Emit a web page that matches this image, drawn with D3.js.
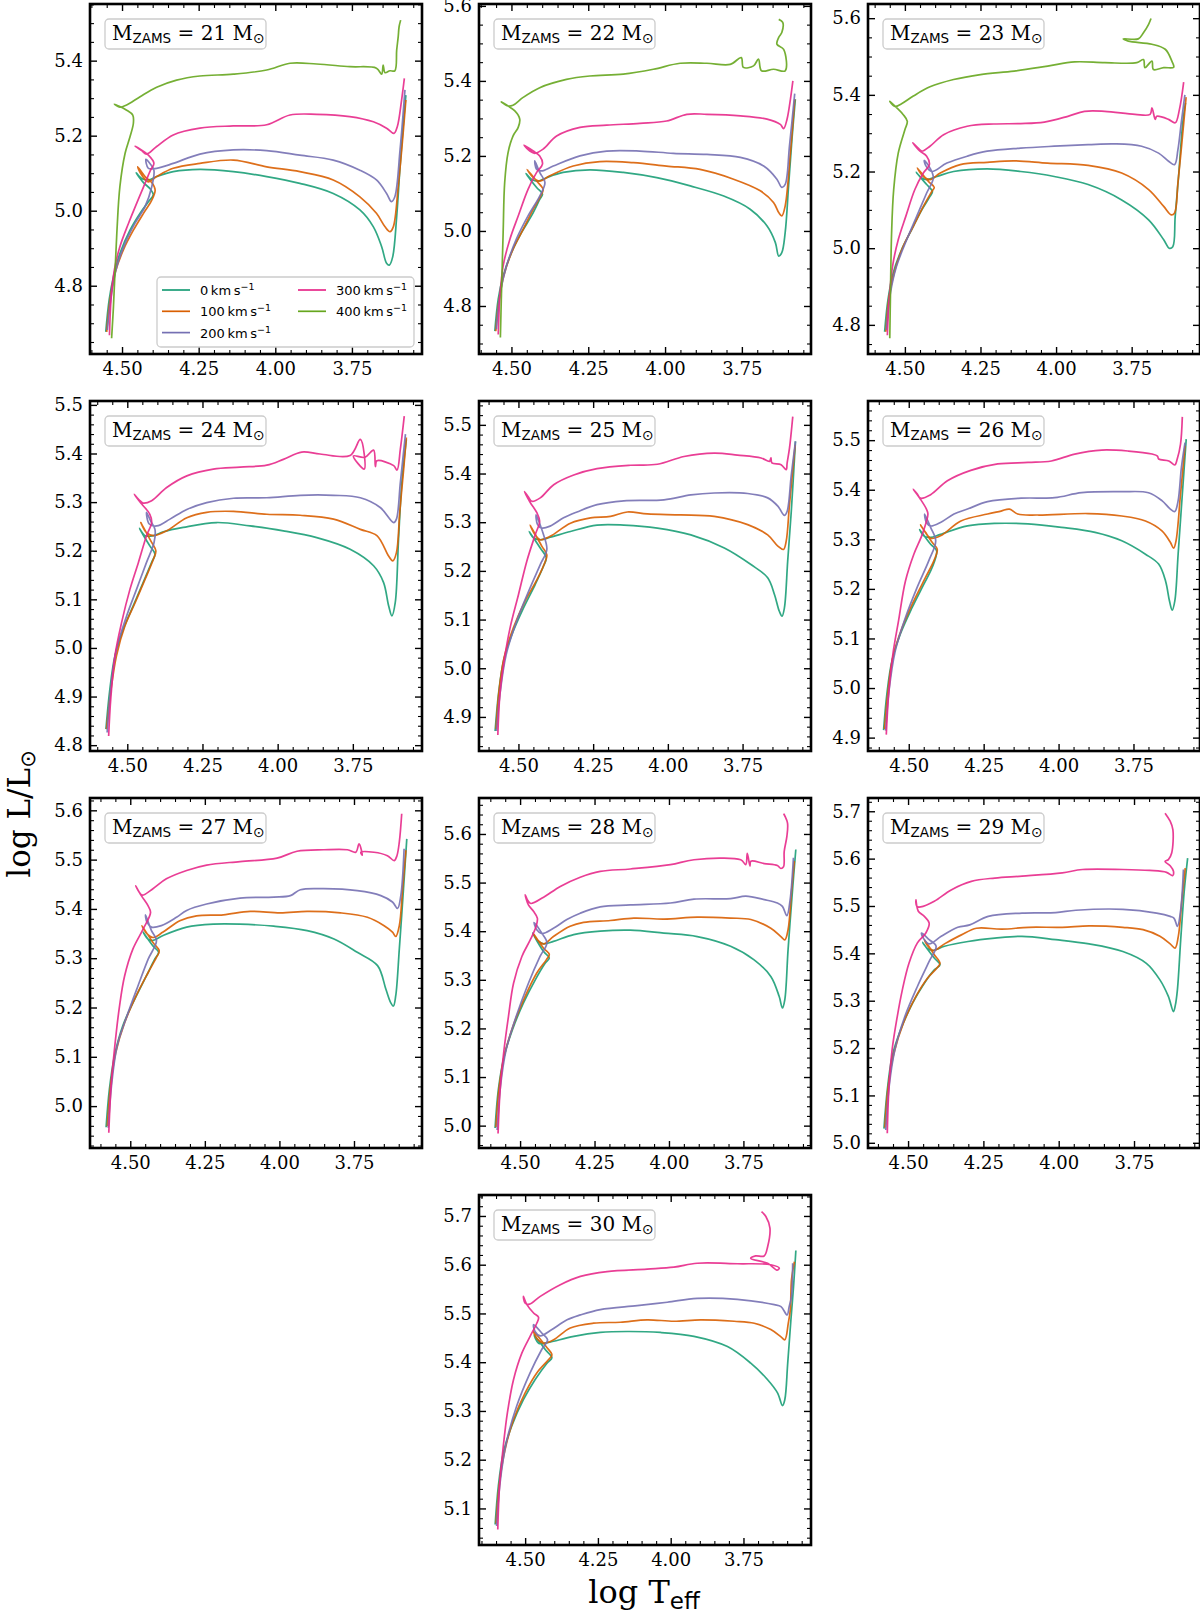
<!DOCTYPE html>
<html>
<head>
<meta charset="utf-8">
<script src="https://cdn.jsdelivr.net/npm/d3@7"></script>
<style>
  body { margin: 0; background: #fff; }
  svg { display: block; font-family: "DejaVu Serif", serif; }
</style>
</head>
<body>
<svg id="chart" width="1200" height="1613"></svg>
<script>
// masses and rotation velocities
const masses = [21, 22, 23, 24, 25, 26, 27, 28, 29, 30];
const velocities = [0, 100, 200, 300, 400];
const velocityLabels = ["0", "100", "200", "300", "400"];
const colors = ["#1b9e77", "#d95f02", "#7570b3", "#e7298a", "#66a61e"];

// axis ranges (log Teff runs backwards)
const xRanges = [[4.6045, 3.5214], [4.6056, 3.525], [4.622, 3.524], [4.624, 3.520], [4.632, 3.521],
                 [4.636, 3.528], [4.635, 3.522], [4.638, 3.523], [4.633, 3.531], [4.6585, 3.518]];
const yRanges = [[4.618, 5.551], [4.672, 5.605], [4.724, 5.637], [4.788, 5.508], [4.830, 5.549],
                 [4.873, 5.579], [4.915, 5.625], [4.954, 5.674], [4.989, 5.728], [5.025, 5.743]];
const yMajorSteps = [0.2, 0.2, 0.2, 0.1, 0.1, 0.1, 0.1, 0.1, 0.1, 0.1];
const yMinorSteps = [0.05, 0.05, 0.05, 0.02, 0.02, 0.02, 0.02, 0.02, 0.02, 0.02];
const xMajorTicks = [4.50, 4.25, 4.00, 3.75];

// tracks: [log Teff, log L]
const m21_v0 = [[4.553,4.677],[4.542,4.762],[4.528,4.824],[4.507,4.886],[4.474,4.948],[4.441,4.993],[4.414,5.024],[4.398,5.042],[4.407,5.057],[4.430,5.075],[4.454,5.101],[4.436,5.086],[4.414,5.082],[4.387,5.091],[4.333,5.104],[4.246,5.110],[4.137,5.104],[4.028,5.091],[3.920,5.073],[3.811,5.046],[3.724,5.002],[3.680,4.957],[3.653,4.904],[3.637,4.860],[3.628,4.855],[3.617,4.877],[3.604,4.984],[3.593,5.117],[3.583,5.224],[3.574,5.308]];
const m21_v100 = [[4.550,4.677],[4.539,4.762],[4.523,4.833],[4.496,4.895],[4.463,4.948],[4.430,4.993],[4.403,5.028],[4.392,5.055],[4.403,5.075],[4.425,5.091],[4.449,5.117],[4.436,5.095],[4.414,5.077],[4.387,5.091],[4.333,5.113],[4.246,5.126],[4.137,5.135],[4.028,5.117],[3.920,5.104],[3.811,5.082],[3.724,5.037],[3.670,4.993],[3.642,4.957],[3.626,4.944],[3.615,4.957],[3.599,5.064],[3.583,5.206],[3.574,5.295]];
const m21_v200 = [[4.548,4.682],[4.534,4.780],[4.517,4.851],[4.490,4.913],[4.458,4.966],[4.425,5.011],[4.403,5.064],[4.396,5.108],[4.409,5.126],[4.422,5.137],[4.414,5.113],[4.387,5.113],[4.333,5.126],[4.246,5.151],[4.137,5.162],[4.028,5.160],[3.920,5.148],[3.811,5.135],[3.724,5.108],[3.670,5.082],[3.637,5.046],[3.621,5.024],[3.610,5.037],[3.593,5.162],[3.577,5.322]];
const m21_v300 = [[4.541,4.668],[4.536,4.762],[4.525,4.842],[4.507,4.904],[4.479,4.966],[4.452,5.020],[4.425,5.073],[4.407,5.108],[4.396,5.126],[4.414,5.148],[4.457,5.172],[4.436,5.160],[4.420,5.151],[4.387,5.171],[4.333,5.202],[4.246,5.220],[4.137,5.226],[4.028,5.229],[3.952,5.255],[3.865,5.257],[3.757,5.251],[3.680,5.237],[3.637,5.220],[3.613,5.206],[3.602,5.224],[3.588,5.295],[3.579,5.353]];
const m21_v400 = [[4.534,4.660],[4.528,4.744],[4.517,4.940],[4.507,5.064],[4.490,5.153],[4.474,5.197],[4.463,5.233],[4.465,5.255],[4.485,5.268],[4.525,5.284],[4.507,5.276],[4.485,5.282],[4.441,5.304],[4.387,5.329],[4.322,5.348],[4.246,5.359],[4.137,5.364],[4.028,5.375],[3.952,5.393],[3.865,5.391],[3.757,5.384],[3.670,5.380],[3.653,5.364],[3.648,5.388],[3.642,5.368],[3.626,5.373],[3.610,5.373],[3.604,5.428],[3.599,5.464],[3.596,5.491],[3.591,5.508]];

const m22_v0 = [[4.554,4.733],[4.543,4.818],[4.527,4.880],[4.500,4.942],[4.467,4.996],[4.435,5.040],[4.408,5.084],[4.399,5.098],[4.418,5.116],[4.453,5.153],[4.435,5.138],[4.413,5.133],[4.386,5.142],[4.332,5.156],[4.245,5.163],[4.136,5.156],[4.027,5.142],[3.918,5.120],[3.809,5.093],[3.723,5.058],[3.668,5.013],[3.641,4.969],[3.630,4.933],[3.620,4.942],[3.609,4.996],[3.598,5.120],[3.587,5.244],[3.576,5.351]];
const m22_v100 = [[4.551,4.733],[4.540,4.818],[4.522,4.889],[4.495,4.951],[4.462,5.004],[4.429,5.058],[4.402,5.098],[4.397,5.111],[4.418,5.133],[4.449,5.164],[4.429,5.142],[4.408,5.133],[4.375,5.147],[4.299,5.173],[4.212,5.185],[4.103,5.182],[3.995,5.173],[3.886,5.164],[3.777,5.138],[3.690,5.107],[3.647,5.076],[3.630,5.049],[3.620,5.040],[3.609,5.067],[3.592,5.209],[3.578,5.351]];
const m22_v200 = [[4.549,4.738],[4.536,4.836],[4.516,4.907],[4.484,4.978],[4.446,5.040],[4.408,5.093],[4.391,5.129],[4.408,5.156],[4.424,5.187],[4.418,5.164],[4.402,5.160],[4.364,5.173],[4.277,5.200],[4.190,5.213],[4.082,5.213],[3.973,5.207],[3.864,5.204],[3.755,5.196],[3.679,5.173],[3.636,5.138],[3.620,5.116],[3.609,5.124],[3.595,5.227],[3.578,5.366]];
const m22_v300 = [[4.543,4.724],[4.538,4.818],[4.527,4.907],[4.505,4.978],[4.478,5.040],[4.446,5.111],[4.418,5.156],[4.399,5.178],[4.408,5.200],[4.429,5.213],[4.459,5.229],[4.440,5.213],[4.424,5.207],[4.397,5.218],[4.353,5.253],[4.277,5.276],[4.190,5.282],[4.082,5.287],[3.995,5.293],[3.929,5.311],[3.864,5.311],[3.755,5.307],[3.668,5.298],[3.625,5.284],[3.614,5.273],[3.603,5.298],[3.592,5.351],[3.584,5.400]];
const m22_v400 = [[4.536,4.716],[4.533,4.818],[4.527,4.996],[4.522,5.129],[4.511,5.209],[4.495,5.253],[4.478,5.276],[4.473,5.298],[4.489,5.320],[4.533,5.344],[4.511,5.333],[4.495,5.335],[4.462,5.356],[4.408,5.382],[4.321,5.404],[4.245,5.413],[4.136,5.418],[4.038,5.431],[3.951,5.447],[3.864,5.447],[3.788,5.444],[3.752,5.462],[3.745,5.436],[3.712,5.440],[3.696,5.458],[3.686,5.427],[3.647,5.431],[3.609,5.427],[3.614,5.484],[3.636,5.498],[3.630,5.516],[3.620,5.529],[3.617,5.556],[3.630,5.564]];

const m23_v0 = [[4.567,4.782],[4.556,4.865],[4.539,4.935],[4.511,4.996],[4.478,5.048],[4.444,5.100],[4.417,5.135],[4.409,5.148],[4.428,5.166],[4.463,5.198],[4.444,5.183],[4.428,5.179],[4.394,5.187],[4.339,5.200],[4.228,5.207],[4.117,5.200],[4.006,5.187],[3.894,5.166],[3.783,5.126],[3.694,5.074],[3.644,5.022],[3.626,5.000],[3.614,5.004],[3.606,5.083],[3.594,5.196],[3.581,5.327],[3.572,5.379]];
const m23_v100 = [[4.563,4.782],[4.552,4.874],[4.533,4.943],[4.506,5.004],[4.472,5.057],[4.439,5.109],[4.411,5.148],[4.403,5.159],[4.422,5.174],[4.459,5.209],[4.439,5.187],[4.417,5.179],[4.383,5.196],[4.317,5.218],[4.228,5.224],[4.139,5.228],[4.028,5.222],[3.894,5.216],[3.783,5.196],[3.694,5.153],[3.644,5.109],[3.619,5.087],[3.608,5.092],[3.597,5.170],[3.583,5.283],[3.570,5.394]];
const m23_v200 = [[4.561,4.787],[4.548,4.882],[4.528,4.952],[4.494,5.022],[4.461,5.083],[4.428,5.144],[4.406,5.183],[4.417,5.209],[4.436,5.229],[4.430,5.214],[4.411,5.200],[4.361,5.222],[4.294,5.240],[4.228,5.253],[4.117,5.261],[4.006,5.266],[3.894,5.270],[3.806,5.272],[3.717,5.266],[3.661,5.248],[3.628,5.227],[3.608,5.218],[3.597,5.257],[3.586,5.327],[3.574,5.400]];
const m23_v300 = [[4.558,4.773],[4.552,4.865],[4.541,4.952],[4.522,5.022],[4.497,5.083],[4.467,5.153],[4.439,5.196],[4.419,5.218],[4.428,5.240],[4.450,5.253],[4.474,5.275],[4.456,5.261],[4.444,5.253],[4.417,5.266],[4.372,5.296],[4.294,5.318],[4.206,5.324],[4.117,5.325],[4.039,5.329],[3.961,5.344],[3.906,5.357],[3.839,5.357],[3.739,5.349],[3.689,5.349],[3.683,5.366],[3.672,5.336],[3.667,5.344],[3.628,5.336],[3.606,5.327],[3.592,5.362],[3.578,5.433]];
const m23_v400 = [[4.550,4.765],[4.548,4.865],[4.544,5.039],[4.537,5.153],[4.522,5.248],[4.500,5.309],[4.492,5.331],[4.506,5.349],[4.550,5.383],[4.533,5.370],[4.511,5.377],[4.472,5.397],[4.417,5.421],[4.339,5.440],[4.250,5.453],[4.139,5.462],[4.028,5.475],[3.939,5.486],[3.839,5.484],[3.733,5.484],[3.711,5.492],[3.706,5.471],[3.683,5.488],[3.678,5.466],[3.644,5.471],[3.611,5.472],[3.617,5.488],[3.639,5.519],[3.683,5.532],[3.761,5.540],[3.778,5.546],[3.728,5.546],[3.711,5.562],[3.694,5.584],[3.686,5.599]];

const m24_v0 = [[4.571,4.833],[4.558,4.915],[4.541,4.984],[4.513,5.039],[4.480,5.087],[4.447,5.135],[4.419,5.176],[4.408,5.193],[4.425,5.210],[4.460,5.246],[4.441,5.231],[4.413,5.231],[4.380,5.239],[4.314,5.248],[4.203,5.258],[4.092,5.251],[3.981,5.241],[3.870,5.227],[3.759,5.203],[3.681,5.169],[3.648,5.135],[3.631,5.087],[3.620,5.066],[3.609,5.093],[3.598,5.224],[3.587,5.340],[3.572,5.429]];
const m24_v100 = [[4.569,4.833],[4.554,4.915],[4.536,4.984],[4.508,5.045],[4.474,5.093],[4.441,5.141],[4.413,5.183],[4.405,5.200],[4.419,5.217],[4.455,5.258],[4.436,5.237],[4.413,5.231],[4.369,5.241],[4.302,5.268],[4.236,5.279],[4.147,5.281],[4.036,5.275],[3.925,5.273],[3.814,5.265],[3.725,5.244],[3.670,5.231],[3.631,5.189],[3.617,5.179],[3.605,5.196],[3.594,5.279],[3.581,5.368],[3.572,5.433]];
const m24_v200 = [[4.567,4.826],[4.555,4.915],[4.536,4.997],[4.502,5.066],[4.469,5.121],[4.436,5.176],[4.411,5.217],[4.408,5.244],[4.422,5.261],[4.436,5.279],[4.427,5.255],[4.402,5.251],[4.358,5.265],[4.302,5.285],[4.236,5.299],[4.147,5.308],[4.036,5.309],[3.925,5.314],[3.814,5.314],[3.725,5.309],[3.659,5.289],[3.614,5.258],[3.605,5.265],[3.592,5.340],[3.575,5.440]];
const m24_v300 = [[4.562,4.819],[4.555,4.895],[4.541,4.984],[4.519,5.052],[4.491,5.121],[4.463,5.176],[4.436,5.231],[4.419,5.258],[4.425,5.275],[4.452,5.296],[4.477,5.316],[4.458,5.303],[4.447,5.298],[4.419,5.303],[4.369,5.330],[4.302,5.354],[4.214,5.368],[4.125,5.372],[4.036,5.376],[3.981,5.388],[3.920,5.403],[3.859,5.399],[3.759,5.396],[3.725,5.429],[3.712,5.368],[3.748,5.395],[3.710,5.392],[3.681,5.407],[3.675,5.373],[3.670,5.385],[3.614,5.375],[3.603,5.366],[3.592,5.409],[3.579,5.477]];

const m25_v0 = [[4.578,4.871],[4.567,4.946],[4.550,5.015],[4.522,5.069],[4.483,5.124],[4.444,5.172],[4.416,5.210],[4.407,5.227],[4.427,5.247],[4.464,5.281],[4.450,5.268],[4.427,5.264],[4.394,5.269],[4.326,5.281],[4.237,5.294],[4.147,5.294],[4.035,5.288],[3.923,5.274],[3.811,5.247],[3.722,5.213],[3.666,5.186],[3.643,5.151],[3.627,5.117],[3.618,5.107],[3.610,5.124],[3.599,5.220],[3.587,5.322],[3.573,5.466]];
const m25_v100 = [[4.575,4.875],[4.565,4.953],[4.548,5.022],[4.517,5.083],[4.478,5.138],[4.438,5.182],[4.410,5.220],[4.405,5.233],[4.422,5.251],[4.461,5.294],[4.444,5.274],[4.427,5.264],[4.394,5.271],[4.326,5.298],[4.259,5.309],[4.192,5.312],[4.136,5.321],[4.069,5.317],[3.957,5.315],[3.845,5.312],[3.733,5.295],[3.666,5.274],[3.632,5.251],[3.613,5.244],[3.604,5.261],[3.593,5.336],[3.574,5.459]];
const m25_v200 = [[4.573,4.871],[4.562,4.946],[4.541,5.028],[4.506,5.097],[4.466,5.158],[4.427,5.213],[4.405,5.244],[4.416,5.274],[4.441,5.315],[4.436,5.295],[4.422,5.288],[4.394,5.292],[4.349,5.309],[4.304,5.321],[4.237,5.336],[4.147,5.344],[4.013,5.346],[3.923,5.356],[3.845,5.360],[3.733,5.359],[3.666,5.350],[3.632,5.333],[3.610,5.314],[3.601,5.322],[3.587,5.397],[3.573,5.466]];
const m25_v300 = [[4.569,4.863],[4.562,4.946],[4.548,5.015],[4.528,5.083],[4.500,5.151],[4.472,5.220],[4.444,5.274],[4.429,5.302],[4.438,5.319],[4.461,5.341],[4.480,5.363],[4.466,5.351],[4.455,5.343],[4.427,5.350],[4.382,5.377],[4.315,5.397],[4.237,5.410],[4.125,5.417],[4.035,5.419],[3.946,5.435],[3.845,5.442],[3.767,5.438],[3.688,5.432],[3.660,5.425],[3.655,5.432],[3.652,5.422],[3.621,5.418],[3.604,5.408],[3.601,5.421],[3.593,5.452],[3.582,5.517]];

const m26_v0 = [[4.584,4.915],[4.573,4.988],[4.556,5.055],[4.528,5.109],[4.489,5.162],[4.450,5.209],[4.422,5.243],[4.407,5.277],[4.427,5.290],[4.464,5.320],[4.450,5.307],[4.427,5.304],[4.394,5.310],[4.304,5.327],[4.214,5.332],[4.102,5.331],[3.990,5.324],[3.878,5.314],[3.789,5.297],[3.710,5.270],[3.666,5.250],[3.643,5.216],[3.630,5.176],[3.621,5.157],[3.612,5.176],[3.601,5.270],[3.587,5.391],[3.574,5.502]];
const m26_v100 = [[4.581,4.917],[4.569,4.994],[4.553,5.062],[4.522,5.122],[4.483,5.176],[4.444,5.223],[4.416,5.257],[4.405,5.280],[4.422,5.294],[4.461,5.329],[4.444,5.314],[4.427,5.302],[4.394,5.307],[4.326,5.337],[4.237,5.351],[4.192,5.357],[4.164,5.361],[4.136,5.351],[4.069,5.349],[3.901,5.352],[3.789,5.347],[3.710,5.337],[3.655,5.317],[3.627,5.294],[3.616,5.282],[3.608,5.297],[3.593,5.391],[3.578,5.489]];
const m26_v200 = [[4.577,4.914],[4.566,4.994],[4.545,5.075],[4.511,5.142],[4.472,5.203],[4.433,5.257],[4.410,5.297],[4.427,5.324],[4.447,5.351],[4.441,5.334],[4.427,5.327],[4.394,5.334],[4.349,5.351],[4.304,5.361],[4.237,5.376],[4.125,5.383],[4.013,5.384],[3.923,5.394],[3.789,5.396],[3.700,5.394],[3.655,5.378],[3.627,5.361],[3.612,5.356],[3.601,5.378],[3.590,5.445],[3.578,5.495]];
const m26_v300 = [[4.575,4.906],[4.567,4.988],[4.553,5.068],[4.534,5.136],[4.511,5.216],[4.483,5.270],[4.455,5.310],[4.436,5.351],[4.441,5.361],[4.461,5.381],[4.485,5.401],[4.472,5.392],[4.461,5.383],[4.427,5.390],[4.371,5.418],[4.293,5.439],[4.203,5.452],[4.102,5.455],[4.024,5.458],[3.946,5.472],[3.856,5.480],[3.767,5.478],[3.688,5.472],[3.670,5.468],[3.666,5.462],[3.632,5.458],[3.612,5.450],[3.604,5.462],[3.593,5.492],[3.587,5.547]];

const m27_v0 = [[4.581,4.957],[4.570,5.034],[4.553,5.102],[4.525,5.163],[4.485,5.217],[4.446,5.264],[4.418,5.298],[4.405,5.312],[4.424,5.325],[4.457,5.353],[4.441,5.339],[4.424,5.336],[4.390,5.346],[4.311,5.363],[4.222,5.369],[4.132,5.369],[4.019,5.365],[3.907,5.356],[3.817,5.339],[3.739,5.312],[3.671,5.285],[3.643,5.237],[3.627,5.210],[3.618,5.203],[3.610,5.224],[3.598,5.319],[3.584,5.441],[3.573,5.542]];
const m27_v100 = [[4.577,4.959],[4.566,5.041],[4.549,5.108],[4.519,5.169],[4.480,5.224],[4.440,5.271],[4.412,5.302],[4.403,5.315],[4.424,5.332],[4.461,5.366],[4.446,5.351],[4.424,5.342],[4.390,5.353],[4.334,5.376],[4.278,5.386],[4.188,5.388],[4.098,5.395],[3.997,5.392],[3.907,5.395],[3.795,5.392],[3.705,5.383],[3.649,5.366],[3.621,5.353],[3.610,5.344],[3.598,5.366],[3.587,5.441],[3.576,5.519]];
const m27_v200 = [[4.574,4.956],[4.563,5.041],[4.544,5.122],[4.511,5.183],[4.474,5.244],[4.440,5.298],[4.412,5.336],[4.429,5.356],[4.449,5.388],[4.444,5.373],[4.429,5.363],[4.396,5.366],[4.345,5.383],[4.311,5.397],[4.244,5.410],[4.132,5.422],[4.019,5.424],[3.963,5.427],[3.930,5.439],[3.851,5.441],[3.739,5.437],[3.660,5.427],[3.621,5.414],[3.604,5.401],[3.593,5.427],[3.582,5.522]];
const m27_v300 = [[4.572,4.946],[4.565,5.034],[4.553,5.115],[4.536,5.203],[4.519,5.264],[4.491,5.319],[4.457,5.359],[4.432,5.393],[4.441,5.407],[4.463,5.427],[4.482,5.447],[4.471,5.435],[4.460,5.428],[4.424,5.441],[4.379,5.461],[4.311,5.478],[4.244,5.489],[4.132,5.496],[4.008,5.503],[3.941,5.517],[3.851,5.520],[3.772,5.520],[3.744,5.515],[3.733,5.532],[3.722,5.509],[3.727,5.515],[3.683,5.515],[3.638,5.508],[3.615,5.498],[3.606,5.508],[3.598,5.536],[3.590,5.593]];

const m28_v0 = [[4.584,4.995],[4.573,5.074],[4.554,5.142],[4.526,5.197],[4.489,5.252],[4.449,5.300],[4.416,5.334],[4.402,5.345],[4.421,5.358],[4.458,5.396],[4.442,5.381],[4.421,5.374],[4.388,5.379],[4.320,5.393],[4.231,5.400],[4.130,5.402],[4.017,5.396],[3.905,5.389],[3.793,5.369],[3.714,5.341],[3.658,5.307],[3.630,5.266],[3.619,5.242],[3.611,5.259],[3.600,5.362],[3.585,5.485],[3.574,5.568]];
const m28_v100 = [[4.581,4.997],[4.570,5.080],[4.551,5.149],[4.520,5.211],[4.483,5.266],[4.444,5.314],[4.412,5.341],[4.402,5.352],[4.421,5.365],[4.455,5.395],[4.442,5.382],[4.421,5.374],[4.388,5.389],[4.332,5.410],[4.287,5.418],[4.197,5.422],[4.118,5.427],[4.017,5.425],[3.905,5.429],[3.793,5.427],[3.725,5.424],[3.658,5.406],[3.624,5.389],[3.611,5.382],[3.600,5.403],[3.588,5.485],[3.579,5.544]];
const m28_v200 = [[4.577,4.991],[4.566,5.080],[4.547,5.156],[4.513,5.225],[4.472,5.293],[4.433,5.348],[4.410,5.376],[4.427,5.396],[4.453,5.418],[4.444,5.403],[4.427,5.395],[4.388,5.406],[4.343,5.424],[4.298,5.437],[4.231,5.450],[4.130,5.454],[3.995,5.458],[3.916,5.466],[3.793,5.467],[3.742,5.472],[3.680,5.465],[3.636,5.458],[3.619,5.451],[3.604,5.432],[3.593,5.465],[3.582,5.551]];
const m28_v300 = [[4.574,4.984],[4.567,5.074],[4.554,5.156],[4.539,5.225],[4.522,5.293],[4.494,5.348],[4.466,5.382],[4.446,5.410],[4.442,5.427],[4.455,5.441],[4.472,5.454],[4.483,5.475],[4.474,5.463],[4.464,5.457],[4.421,5.470],[4.365,5.492],[4.298,5.511],[4.231,5.523],[4.130,5.528],[3.995,5.537],[3.916,5.547],[3.759,5.547],[3.742,5.537],[3.737,5.560],[3.728,5.534],[3.725,5.544],[3.680,5.539],[3.636,5.535],[3.624,5.529],[3.615,5.533],[3.613,5.564],[3.604,5.595],[3.602,5.623],[3.615,5.642]];

const m29_v0 = [[4.580,5.030],[4.569,5.111],[4.553,5.182],[4.525,5.238],[4.485,5.295],[4.446,5.337],[4.413,5.365],[4.394,5.376],[4.413,5.390],[4.452,5.423],[4.437,5.411],[4.418,5.406],[4.379,5.415],[4.301,5.425],[4.212,5.432],[4.122,5.436],[4.010,5.429],[3.899,5.420],[3.787,5.404],[3.709,5.379],[3.664,5.344],[3.636,5.309],[3.619,5.277],[3.613,5.290],[3.606,5.323],[3.595,5.429],[3.583,5.534],[3.572,5.601]];
const m29_v100 = [[4.577,5.032],[4.566,5.118],[4.547,5.189],[4.516,5.252],[4.474,5.309],[4.435,5.348],[4.404,5.369],[4.394,5.379],[4.413,5.397],[4.446,5.429],[4.435,5.416],[4.416,5.406],[4.379,5.420],[4.323,5.439],[4.273,5.453],[4.189,5.451],[4.100,5.455],[3.988,5.455],[3.899,5.458],[3.787,5.455],[3.720,5.450],[3.664,5.436],[3.630,5.420],[3.614,5.411],[3.603,5.436],[3.591,5.513],[3.580,5.580]];
const m29_v200 = [[4.574,5.027],[4.563,5.118],[4.544,5.196],[4.511,5.266],[4.469,5.330],[4.430,5.383],[4.407,5.415],[4.430,5.429],[4.455,5.443],[4.449,5.432],[4.430,5.420],[4.390,5.436],[4.335,5.455],[4.295,5.460],[4.234,5.478],[4.122,5.485],[4.010,5.486],[3.943,5.491],[3.787,5.493],[3.675,5.485],[3.630,5.478],[3.617,5.474],[3.606,5.457],[3.595,5.492],[3.586,5.577]];
const m29_v300 = [[4.569,5.020],[4.564,5.111],[4.553,5.196],[4.536,5.266],[4.519,5.323],[4.497,5.379],[4.469,5.422],[4.441,5.443],[4.430,5.464],[4.446,5.478],[4.466,5.489],[4.474,5.513],[4.471,5.499],[4.458,5.498],[4.413,5.510],[4.357,5.534],[4.290,5.552],[4.212,5.559],[4.122,5.563],[3.988,5.570],[3.921,5.577],[3.787,5.577],[3.698,5.575],[3.642,5.571],[3.622,5.564],[3.619,5.573],[3.630,5.585],[3.647,5.594],[3.636,5.598],[3.625,5.612],[3.621,5.661],[3.630,5.679],[3.647,5.696]];

const m30_v0 = [[4.603,5.067],[4.592,5.146],[4.575,5.214],[4.546,5.269],[4.506,5.323],[4.466,5.364],[4.425,5.398],[4.408,5.409],[4.431,5.426],[4.469,5.456],[4.454,5.439],[4.431,5.439],[4.402,5.443],[4.333,5.453],[4.242,5.461],[4.150,5.463],[4.035,5.461],[3.920,5.453],[3.805,5.432],[3.725,5.398],[3.667,5.364],[3.633,5.337],[3.616,5.311],[3.608,5.323],[3.598,5.398],[3.587,5.487],[3.578,5.555],[3.570,5.629]];
const m30_v100 = [[4.600,5.069],[4.588,5.153],[4.569,5.221],[4.540,5.282],[4.500,5.337],[4.460,5.378],[4.420,5.405],[4.408,5.415],[4.428,5.432],[4.471,5.463],[4.458,5.447],[4.437,5.439],[4.402,5.446],[4.345,5.470],[4.265,5.480],[4.173,5.482],[4.081,5.487],[3.989,5.484],[3.897,5.487],[3.782,5.484],[3.713,5.480],[3.656,5.467],[3.621,5.452],[3.608,5.446],[3.596,5.480],[3.589,5.508],[3.585,5.569],[3.575,5.606]];
const m30_v200 = [[4.598,5.064],[4.586,5.153],[4.565,5.234],[4.529,5.310],[4.483,5.378],[4.443,5.426],[4.423,5.446],[4.443,5.460],[4.471,5.477],[4.466,5.463],[4.448,5.454],[4.408,5.467],[4.356,5.487],[4.310,5.497],[4.242,5.508],[4.115,5.516],[4.012,5.523],[3.909,5.531],[3.771,5.529],[3.644,5.518],[3.621,5.514],[3.600,5.497],[3.593,5.514],[3.585,5.535],[3.581,5.603]];
const m30_v300 = [[4.594,5.057],[4.588,5.146],[4.575,5.228],[4.561,5.296],[4.540,5.364],[4.511,5.419],[4.483,5.453],[4.460,5.480],[4.454,5.492],[4.471,5.501],[4.494,5.518],[4.506,5.535],[4.500,5.521],[4.485,5.519],[4.448,5.535],[4.379,5.559],[4.310,5.576],[4.219,5.586],[4.081,5.591],[3.989,5.595],[3.909,5.603],[3.771,5.602],[3.656,5.600],[3.627,5.593],[3.635,5.589],[3.667,5.603],[3.725,5.613],[3.708,5.618],[3.679,5.618],[3.667,5.637],[3.659,5.675],[3.673,5.699],[3.688,5.709]];

const tracks = {
	21: [m21_v0, m21_v100, m21_v200, m21_v300, m21_v400],
	22: [m22_v0, m22_v100, m22_v200, m22_v300, m22_v400],
	23: [m23_v0, m23_v100, m23_v200, m23_v300, m23_v400],
	24: [m24_v0, m24_v100, m24_v200, m24_v300],
	25: [m25_v0, m25_v100, m25_v200, m25_v300],
	26: [m26_v0, m26_v100, m26_v200, m26_v300],
	27: [m27_v0, m27_v100, m27_v200, m27_v300],
	28: [m28_v0, m28_v100, m28_v200, m28_v300],
	29: [m29_v0, m29_v100, m29_v200, m29_v300],
	30: [m30_v0, m30_v100, m30_v200, m30_v300]
};

// layout
const W = 332, H = 350;
const colLeft = [90, 479, 868];
const rowTop = [4, 401, 798, 1195];

const svg = d3.select("#chart");

function stepTicks(domain, step, skip) {
	let lo = Math.min(...domain), hi = Math.max(...domain);
	return d3.range(Math.ceil(lo / step - 1e-6), Math.floor(hi / step + 1e-6) + 1)
		.map(k => +(k * step).toFixed(4))
		.filter(v => !skip || !skip.some(s => Math.abs(s - v) < 1e-6));
}

function drawTicks(g, axisFn, scale, values, size, withLabels, fmt, pad) {
	let ax = axisFn(scale).tickValues(values).tickSizeInner(-size).tickSizeOuter(0);
	ax = withLabels ? ax.tickFormat(fmt).tickPadding(pad) : ax.tickFormat(() => "");
	g.call(ax);
	g.select(".domain").remove();
	g.selectAll(".tick line").attr("stroke", "#000").attr("stroke-width", size > 5 ? 1.4 : 1.1);
	g.selectAll(".tick text")
		.attr("fill", "#000")
		.style("font-family", "'DejaVu Serif', serif")
		.style("font-size", "18px");
}

masses.forEach((m, i) => {
	let col = i === 9 ? 1 : i % 3,
		row = Math.floor(i / 3);
	let g = svg.append("g").attr("transform", `translate(${colLeft[col]},${rowTop[row]})`);

	let x = d3.scaleLinear().domain(xRanges[i]).range([0, W]);
	let y = d3.scaleLinear().domain(yRanges[i]).range([H, 0]);

	g.append("clipPath").attr("id", "clip" + m)
		.append("rect").attr("width", W).attr("height", H);

	let yMajor = stepTicks(yRanges[i], yMajorSteps[i]);
	let yMinor = stepTicks(yRanges[i], yMinorSteps[i], yMajor);
	let xMinor = stepTicks(xRanges[i], 0.05, xMajorTicks);

	// ticks on all four sides, pointing inward
	drawTicks(g.append("g").attr("transform", `translate(0,${H})`), d3.axisBottom, x, xMajorTicks, 7, true, d3.format(".2f"), 8);
	drawTicks(g.append("g").attr("transform", `translate(0,${H})`), d3.axisBottom, x, xMinor, 4, false);
	drawTicks(g.append("g"), d3.axisTop, x, xMajorTicks, 7, false);
	drawTicks(g.append("g"), d3.axisTop, x, xMinor, 4, false);
	drawTicks(g.append("g"), d3.axisLeft, y, yMajor, 7, true, d3.format(".1f"), 7);
	drawTicks(g.append("g"), d3.axisLeft, y, yMinor, 4, false);
	drawTicks(g.append("g").attr("transform", `translate(${W},0)`), d3.axisRight, y, yMajor, 7, false);
	drawTicks(g.append("g").attr("transform", `translate(${W},0)`), d3.axisRight, y, yMinor, 4, false);

	let line = d3.line()
		.x(d => x(d[0]))
		.y(d => y(d[1]))
		.curve(d3.curveCatmullRom.alpha(0.5));

	g.append("g")
		.attr("clip-path", `url(#clip${m})`)
		.selectAll("path")
		.data(tracks[m]).enter()
		.append("path")
		.attr("d", line)
		.attr("fill", "none")
		.attr("stroke", (d, k) => colors[k])
		.attr("stroke-opacity", 0.9)
		.attr("stroke-width", 1.7)
		.attr("stroke-linejoin", "round");

	// frame
	g.append("rect")
		.attr("width", W).attr("height", H)
		.attr("fill", "none")
		.attr("stroke", "#000")
		.attr("stroke-width", 2.6);

	// mass label box
	let box = g.append("g").attr("transform", "translate(15,15)");
	box.append("rect")
		.attr("width", 161).attr("height", 30).attr("rx", 4)
		.attr("fill", "#fff").attr("fill-opacity", 0.85)
		.attr("stroke", "#cccccc").attr("stroke-width", 1.3);
	let t = box.append("text").attr("x", 7).attr("y", 21)
		.style("font-size", "20px").attr("fill", "#000");
	t.append("tspan").text("M");
	t.append("tspan").attr("dy", 3).style("font-family", "'DejaVu Sans', sans-serif").style("font-size", "13.5px").text("ZAMS");
	t.append("tspan").attr("dy", -3).text(" = " + m + " M");
	t.append("tspan").attr("dy", 3).style("font-family", "'DejaVu Sans', sans-serif").style("font-size", "14px").text("⊙");

	// legend only in the first panel
	if (i === 0) {
		let lg = g.append("g").attr("transform", "translate(67,273)");
		lg.append("rect")
			.attr("width", 257).attr("height", 70).attr("rx", 4)
			.attr("fill", "#fff").attr("fill-opacity", 0.85)
			.attr("stroke", "#cccccc").attr("stroke-width", 1.3);
		let items = lg.selectAll("g.item")
			.data(velocities).enter()
			.append("g").classed("item", true)
			.attr("transform", (d, k) => `translate(${k < 3 ? 5 : 141},${13 + (k % 3) * 21.3})`);
		items.append("line")
			.attr("x1", 0).attr("x2", 28)
			.attr("stroke", (d, k) => colors[k])
			.attr("stroke-width", 1.7);
		let lt = items.append("text")
			.attr("x", 38).attr("y", 5)
			.style("font-family", "'DejaVu Sans', sans-serif")
			.style("font-size", "13px")
			.attr("fill", "#000");
		lt.append("tspan").text((d, k) => velocityLabels[k] + "\u2009km\u2009s");
		lt.append("tspan").attr("dy", -5).style("font-size", "9.5px").text("\u22121");
	}
});

// axis titles
let xl = svg.append("text")
	.attr("x", 644).attr("y", 1603)
	.attr("text-anchor", "middle")
	.style("font-size", "32px");
xl.append("tspan").text("log T");
xl.append("tspan").attr("dy", 6).style("font-family", "'DejaVu Sans', sans-serif").style("font-size", "23px").text("eff");

let yl = svg.append("text")
	.attr("transform", "translate(30,814) rotate(-90)")
	.attr("text-anchor", "middle")
	.style("font-size", "31px");
yl.append("tspan").text("log L/L");
yl.append("tspan").attr("dy", 5).style("font-family", "'DejaVu Sans', sans-serif").style("font-size", "21px").text("⊙");
</script>
</body>
</html>
